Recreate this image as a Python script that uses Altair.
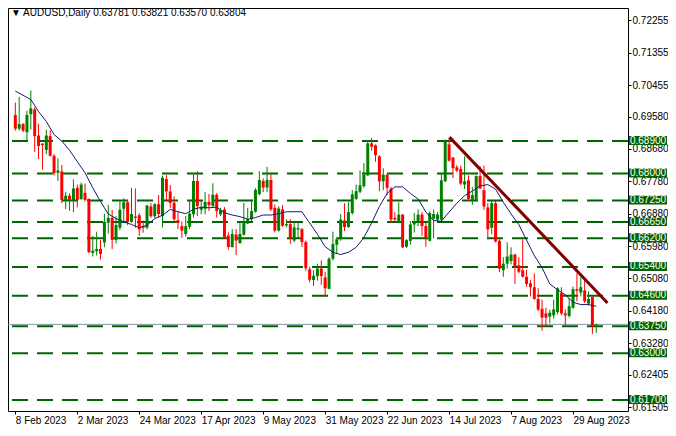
import altair as alt
import pandas as pd

# ---- OHLC data (daily bars, 8 Feb 2023 .. 6 Sep 2023) ----
open_ = [0.69627,0.69246,0.69373,0.69146,0.69646,0.69782,0.69055,0.68828,0.68655,0.69037,
         0.68491,0.68019,0.68055,0.67264,0.67382,0.67264,0.67600,0.67291,0.67464,0.67291,
         0.65792,0.65837,0.65901,0.66082,0.66628,0.66764,0.66155,0.66491,0.67019,0.67200,
         0.66655,0.66801,0.66837,0.66537,0.66491,0.67082,0.66810,0.67146,0.66818,0.67845,
         0.67500,0.67182,0.66700,0.66536,0.66318,0.66518,0.66864,0.67791,0.66991,0.67018,
         0.67209,0.67100,0.67409,0.66864,0.67000,0.66273,0.65955,0.66300,0.66064,0.66300,
         0.66609,0.66727,0.66936,0.67427,0.67791,0.67609,0.67818,0.67045,0.66409,0.67000,
         0.66554,0.66591,0.66136,0.66445,0.66454,0.66091,0.65336,0.65037,0.65146,0.65355,
         0.65109,0.64791,0.65628,0.66018,0.66173,0.66691,0.66509,0.66900,0.67291,0.67491,
         0.67645,0.67946,0.68836,0.68782,0.68473,0.67782,0.67964,0.67582,0.66764,0.66655,
         0.66855,0.65964,0.66127,0.66582,0.66627,0.66855,0.66537,0.66127,0.66746,0.66718,
         0.66718,0.67782,0.68809,0.68445,0.68173,0.68127,0.67691,0.67809,0.67264,0.67264,
         0.67927,0.67536,0.67055,0.66491,0.67173,0.66127,0.65309,0.65491,0.65564,0.65746,
         0.65446,0.65309,0.65128,0.64946,0.64837,0.64510,0.64237,0.64110,0.64019,0.64055,
         0.64146,0.64673,0.64110,0.64037,0.64264,0.64782,0.64691,0.64746,0.64382,0.64564,
         0.63781]
high = [0.69973,0.70127,0.69400,0.69746,0.70309,0.69837,0.69382,0.68840,0.69218,0.69200,
        0.68537,0.68419,0.68237,0.67491,0.67446,0.67837,0.67691,0.67746,0.67719,0.67310,
        0.66264,0.66382,0.66146,0.66882,0.67128,0.66991,0.66810,0.67264,0.67310,0.67264,
        0.67600,0.67582,0.66900,0.66691,0.67128,0.67173,0.67173,0.67400,0.67936,0.67954,
        0.67682,0.67363,0.66936,0.66664,0.66818,0.67245,0.67973,0.68063,0.67227,0.67482,
        0.67427,0.67727,0.67454,0.67045,0.67064,0.66364,0.66454,0.66454,0.66682,0.67182,
        0.67045,0.67273,0.67591,0.68063,0.67863,0.68182,0.67973,0.67136,0.67091,0.67118,
        0.66727,0.66727,0.66664,0.66664,0.66482,0.66136,0.65409,0.65309,0.65491,0.65582,
        0.65264,0.65673,0.66382,0.66237,0.66873,0.67173,0.67200,0.67536,0.67691,0.68082,
        0.68291,0.68927,0.68991,0.68809,0.68509,0.68145,0.67991,0.67627,0.66927,0.67200,
        0.66873,0.66173,0.66673,0.66900,0.67000,0.66927,0.66655,0.66946,0.67000,0.66927,
        0.67991,0.68945,0.68991,0.68450,0.68236,0.68218,0.68473,0.67946,0.67627,0.67946,
        0.68200,0.68218,0.67173,0.67264,0.67237,0.66173,0.65673,0.66082,0.65946,0.65764,
        0.65673,0.66173,0.65328,0.65037,0.65219,0.64809,0.64491,0.64264,0.64219,0.64491,
        0.64837,0.64837,0.64219,0.64537,0.64855,0.65219,0.65109,0.65055,0.64719,0.64582,
        0.63821]
low = [0.69191,0.69191,0.69146,0.68928,0.69218,0.68600,0.68400,0.68109,0.68537,0.68473,
       0.67946,0.67791,0.67173,0.67010,0.66964,0.66928,0.67055,0.67264,0.67219,0.65782,
       0.65692,0.65719,0.65610,0.65946,0.66328,0.65901,0.66055,0.66419,0.66673,0.66564,
       0.66628,0.66491,0.66264,0.66355,0.66446,0.66764,0.66764,0.66764,0.66500,0.67227,
       0.67045,0.66664,0.66454,0.66209,0.66245,0.66454,0.66773,0.66818,0.66864,0.66864,
       0.66954,0.67045,0.66773,0.66818,0.66182,0.65882,0.65936,0.65727,0.66045,0.66273,
       0.66591,0.66664,0.66909,0.67391,0.67482,0.67482,0.66954,0.66364,0.66382,0.66518,
       0.66500,0.66045,0.66091,0.66209,0.65955,0.65300,0.64973,0.64873,0.65019,0.64900,
       0.64564,0.64782,0.65582,0.65764,0.66127,0.66400,0.66491,0.66855,0.67264,0.67445,
       0.67600,0.67927,0.68627,0.68327,0.67509,0.67536,0.67400,0.66627,0.66655,0.66627,
       0.65928,0.65928,0.66018,0.66355,0.66537,0.66264,0.65964,0.66109,0.66200,0.66673,
       0.66673,0.67764,0.68327,0.67873,0.68036,0.67673,0.67564,0.67237,0.67127,0.67218,
       0.67564,0.66991,0.66218,0.66309,0.66082,0.65264,0.65128,0.65355,0.65473,0.64928,
       0.65219,0.65109,0.64855,0.64582,0.64491,0.64173,0.63628,0.63746,0.63837,0.63964,
       0.64082,0.64055,0.63782,0.63991,0.64237,0.64446,0.64582,0.64400,0.64328,0.63537,
       0.63570]
close = [0.69246,0.69373,0.69191,0.69627,0.69809,0.69037,0.68764,0.68791,0.69055,0.68491,
         0.68009,0.68082,0.67264,0.67382,0.67264,0.67582,0.67264,0.67691,0.67264,0.65810,
         0.65855,0.65901,0.65764,0.66655,0.66764,0.66155,0.66564,0.66991,0.67200,0.66655,
         0.66873,0.66764,0.66446,0.66491,0.67110,0.66810,0.67146,0.66873,0.67882,0.67500,
         0.67182,0.66727,0.66627,0.66409,0.66536,0.66882,0.67791,0.67091,0.67064,0.67209,
         0.67118,0.67409,0.66954,0.66982,0.66227,0.65955,0.66318,0.66136,0.66318,0.66664,
         0.66727,0.66954,0.67545,0.67818,0.67609,0.67818,0.67000,0.66409,0.67027,0.66545,
         0.66591,0.66209,0.66500,0.66482,0.66091,0.65364,0.65046,0.65155,0.65355,0.65146,
         0.64809,0.65628,0.66037,0.66173,0.66718,0.66509,0.66927,0.67418,0.67509,0.67673,
         0.67964,0.68836,0.68745,0.68509,0.67782,0.67964,0.67600,0.66718,0.66718,0.66855,
         0.65946,0.66146,0.66582,0.66673,0.66855,0.66537,0.66218,0.66900,0.66873,0.66855,
         0.67809,0.68900,0.68355,0.68145,0.68082,0.67718,0.67782,0.67291,0.67400,0.67927,
         0.67582,0.67082,0.66446,0.67173,0.66109,0.65355,0.65491,0.65691,0.65746,0.65419,
         0.65264,0.65128,0.64928,0.64837,0.64510,0.64219,0.63991,0.63991,0.64128,0.64219,
         0.64809,0.64110,0.64055,0.64310,0.64782,0.64737,0.64837,0.64446,0.64510,0.63764,
         0.63804]

# moving average
ma_idx = [0,4,6,8,10,12,14,16,18,20,22,24,26,28,30,32,34,36,38,40,42,44,46,48,50,52,54,56,58,60,
          62,64,66,68,70,72,74,75,76,78,80,82,84,86,88,90,92,94,96,98,100,102,104,106,108,110,112,
          114,116,118,120,122,124,126,128,130,132,134,136,138,140,142,144,146,148,150]
ma_val = [0.70291,0.70055,0.69720,0.69446,0.69082,0.68900,0.68646,0.68327,0.68018,0.67600,0.67218,
          0.66873,0.66746,0.66655,0.66582,0.66491,0.66564,0.66746,0.66837,0.67000,0.66936,0.66882,
          0.67000,0.67064,0.67045,0.67064,0.66909,0.66845,0.66800,0.66727,0.66773,0.66845,0.66845,
          0.66882,0.66936,0.66936,0.66936,0.66773,0.66627,0.66309,0.65964,0.65809,0.65745,0.65809,
          0.65946,0.66218,0.66627,0.67082,0.67445,0.67627,0.67627,0.67445,0.67291,0.66927,0.66691,
          0.66673,0.66927,0.67173,0.67382,0.67509,0.67655,0.67691,0.67564,0.67200,0.66873,0.66582,
          0.66145,0.65718,0.65382,0.64927,0.64764,0.64627,0.64418,0.64355,0.64355,0.64309]

# trendline end points
trend_idx = [112.1, 152.9]
trend_val = [0.6901, 0.6440]

# horizontal levels
levels = [0.68900, 0.68000, 0.67250, 0.66650, 0.66200, 0.65400, 0.64600, 0.63750, 0.63000, 0.61700]
current_price = [0.63804]

# axis labels
price_ticks = [0.72255, 0.71355, 0.70455, 0.69580, 0.68680, 0.67780, 0.66880, 0.65980,
               0.65080, 0.64180, 0.63280, 0.62405, 0.61505]
date_idx = [0, 16, 32, 48, 64, 80, 96, 112, 128, 144]
date_labels = ["8 Feb 2023", "2 Mar 2023", "24 Mar 2023", "17 Apr 2023", "9 May 2023",
               "31 May 2023", "22 Jun 2023", "14 Jul 2023", "7 Aug 2023", "29 Aug 2023"]
header = "▼ AUDUSD,Daily  0.63781 0.63821 0.63570 0.63804"

FONT = "Liberation Sans"
W, H = 620, 403
PAD_R = 40

candles = pd.DataFrame({"idx": list(range(len(open_))), "open": open_, "high": high,
                        "low": low, "close": close})
candles["dir"] = ["up" if c >= o else "down" for o, c in zip(open_, close)]
ma_df = pd.DataFrame({"idx": ma_idx, "val": ma_val})
trend_df = pd.DataFrame({"idx": trend_idx, "val": trend_val})
lev_df = pd.DataFrame({"val": levels, "label": [f"{v:.5f}" for v in levels]})
cur_df = pd.DataFrame({"val": current_price})
head_df = pd.DataFrame({"t": [header]})

label_expr = "".join(f"datum.value == {v} ? '{t}' : " for v, t in zip(date_idx, date_labels)) + "''"

xscale = alt.Scale(domain=[-0.6, 156.9], nice=False, zero=False)
yscale = alt.Scale(domain=[0.61396, 0.72600], nice=False, zero=False)
xaxis = alt.Axis(values=date_idx, labelExpr=label_expr, title=None, grid=False, domain=False,
                 labelAlign="left", labelPadding=1, tickSize=3, labelOverlap=False,
                 labelFlush=False)
yaxis = alt.Axis(values=price_ticks, format=".5f", orient="right", title=None, grid=False,
                 domain=False, tickSize=3, labelPadding=1, labelOverlap=False,
                 labelBaseline="middle")

def X(field):
    return alt.X(field, type="quantitative", scale=xscale, axis=xaxis)

def Y(field):
    return alt.Y(field, type="quantitative", scale=yscale, axis=yaxis)

color = alt.Color("dir:N", scale=alt.Scale(domain=["up", "down"], range=["#008000", "#ff0000"]),
                  legend=None)

lev_lines = alt.Chart(lev_df).mark_rule(color="#006400", strokeWidth=2, strokeDash=[16, 9]).encode(
    y=Y("val"))
cur_line = alt.Chart(cur_df).mark_rule(color="#8a96a6", strokeWidth=1).encode(y=Y("val"))
wicks = alt.Chart(candles).mark_rule(strokeWidth=1).encode(
    x=X("idx"), y=Y("low"), y2="high", color=color)
bodies = alt.Chart(candles).mark_bar(size=3).encode(
    x=X("idx"), y=Y("open"), y2="close", color=color)
ma_line = alt.Chart(ma_df).mark_line(color="#191970", strokeWidth=1).encode(
    x=X("idx"), y=Y("val"))
trend = alt.Chart(trend_df).mark_line(color="#800000", strokeWidth=3).encode(
    x=X("idx"), y=Y("val"))
boxes = alt.Chart(lev_df).mark_rect(color="#006400", yOffset=-5, y2Offset=4).encode(
    x=alt.value(W + 1), x2=alt.value(W + PAD_R - 1), y=Y("val"), y2="val")
box_text = alt.Chart(lev_df).mark_text(color="white", font=FONT, fontSize=10, align="center",
                                       baseline="middle", dy=-0.5).encode(
    x=alt.value(W + PAD_R / 2), y=Y("val"), text="label:N")
head = alt.Chart(head_df).mark_text(color="black", font=FONT, fontSize=10, align="left",
                                    baseline="top").encode(
    x=alt.value(3), y=alt.value(0), text="t:N")

chart = alt.layer(lev_lines, cur_line, wicks, bodies, ma_line, trend, boxes, box_text, head).properties(
    width=W, height=H,
    padding={"left": 0, "top": 0, "right": PAD_R, "bottom": 16},
    autosize=alt.AutoSizeParams(type="none"),
    background="white",
).configure_view(stroke="black", strokeWidth=1).configure_axis(
    labelFont=FONT, labelFontSize=10, labelColor="black", tickColor="black"
)

chart.save("out.html", embed_options={"renderer": "svg", "actions": False})
